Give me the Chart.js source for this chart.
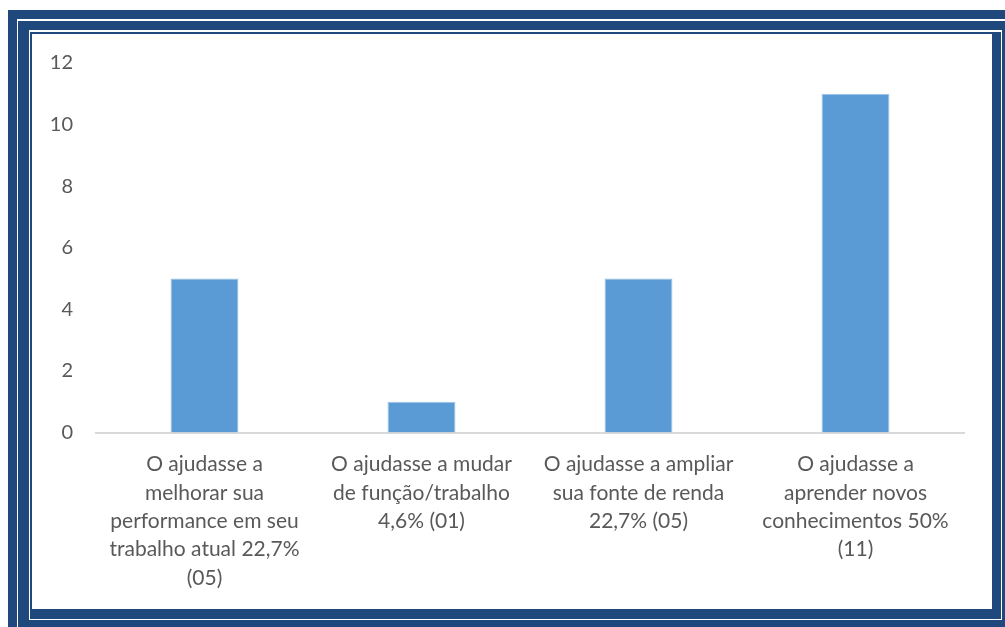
<!DOCTYPE html>
<html>
<head>
<meta charset="utf-8">
<script src="https://cdn.jsdelivr.net/npm/chart.js@4/dist/chart.umd.min.js"></script>
<style>
  html, body { margin: 0; padding: 0; background: #ffffff; }
  body { width: 1005px; height: 627px; position: relative; overflow: hidden; }
  .moldura { position: absolute; left: 8px; top: 10px; width: 1100px; height: 700px; background: #1f497d; }
  .linhaExterna { position: absolute; left: 17px; top: 19px; width: 1100px; height: 700px;
    border-left: 1px solid #fff; border-top: 2px solid #fff; box-sizing: border-box; }
  .linhaInterna { position: absolute; left: 29px; top: 30px; width: 973px; height: 590px;
    border-left: 1px solid #fff; border-top: 2px solid #fff; border-right: 1px solid #fff;
    border-bottom: 1px solid #fff; box-sizing: border-box; }
  .areaGrafico { position: absolute; left: 32px; top: 34px; width: 960px; height: 575px; background: #fff; }
</style>
</head>
<body>
<div class="moldura"></div>
<div class="linhaExterna"></div>
<div class="linhaInterna"></div>
<div class="areaGrafico"><canvas id="grafico" width="960" height="575"></canvas></div>
<script>
// categorias (rótulos do eixo x, já quebrados em linhas)
const categorias = [
  ['O ajudasse a', 'melhorar sua', 'performance em seu', 'trabalho atual 22,7%', '(05)'],
  ['O ajudasse a mudar', 'de função/trabalho', '4,6% (01)'],
  ['O ajudasse a ampliar', 'sua fonte de renda', '22,7% (05)'],
  ['O ajudasse a', 'aprender novos', 'conhecimentos 50%', '(11)']
];
const respostas = [5, 1, 5, 11];
const ticksY = [0, 2, 4, 6, 8, 10, 12];

const corTexto = '#595959';
const fonte = { family: 'Lato, "Open Sans", sans-serif', size: 21, lineHeight: 1.35 };

new Chart(document.getElementById('grafico').getContext('2d'), {
  type: 'bar',
  data: {
    labels: categorias,
    datasets: [{
      label: 'Respostas',
      data: respostas,
      backgroundColor: '#5b9bd5',
      borderColor: '#9dc3e6',
      borderWidth: { left: 1, right: 1, top: 1, bottom: 0 },
      barPercentage: 1,
      categoryPercentage: 0.313
    }]
  },
  options: {
    responsive: false,
    animation: false,
    events: [],
    layout: { padding: { top: 29, right: 28, left: 0, bottom: 0 } },
    plugins: { legend: { display: false }, tooltip: { enabled: false } },
    scales: {
      x: {
        grid: { display: false, drawTicks: false },
        border: { display: true, color: '#d9d9d9', width: 2 },
        ticks: { color: corTexto, font: fonte, padding: 18, maxRotation: 0, autoSkip: false },
        afterFit: (scale) => { scale.height = 176.5; }
      },
      y: {
        min: 0,
        max: 12,
        afterBuildTicks: (scale) => { scale.ticks = ticksY.map(v => ({ value: v })); },
        grid: { display: false, drawTicks: false },
        border: { display: false },
        ticks: { color: corTexto, font: { family: fonte.family, size: 20 }, padding: 23 },
        afterFit: (scale) => {
          // o eixo y reservava espaço extra em cima; zera para o topo seguir o padding do layout
          scale.width = 64;
          scale.paddingTop = 0;
          scale.paddingBottom = 0;
        }
      }
    }
  }
});
</script>
</body>
</html>
